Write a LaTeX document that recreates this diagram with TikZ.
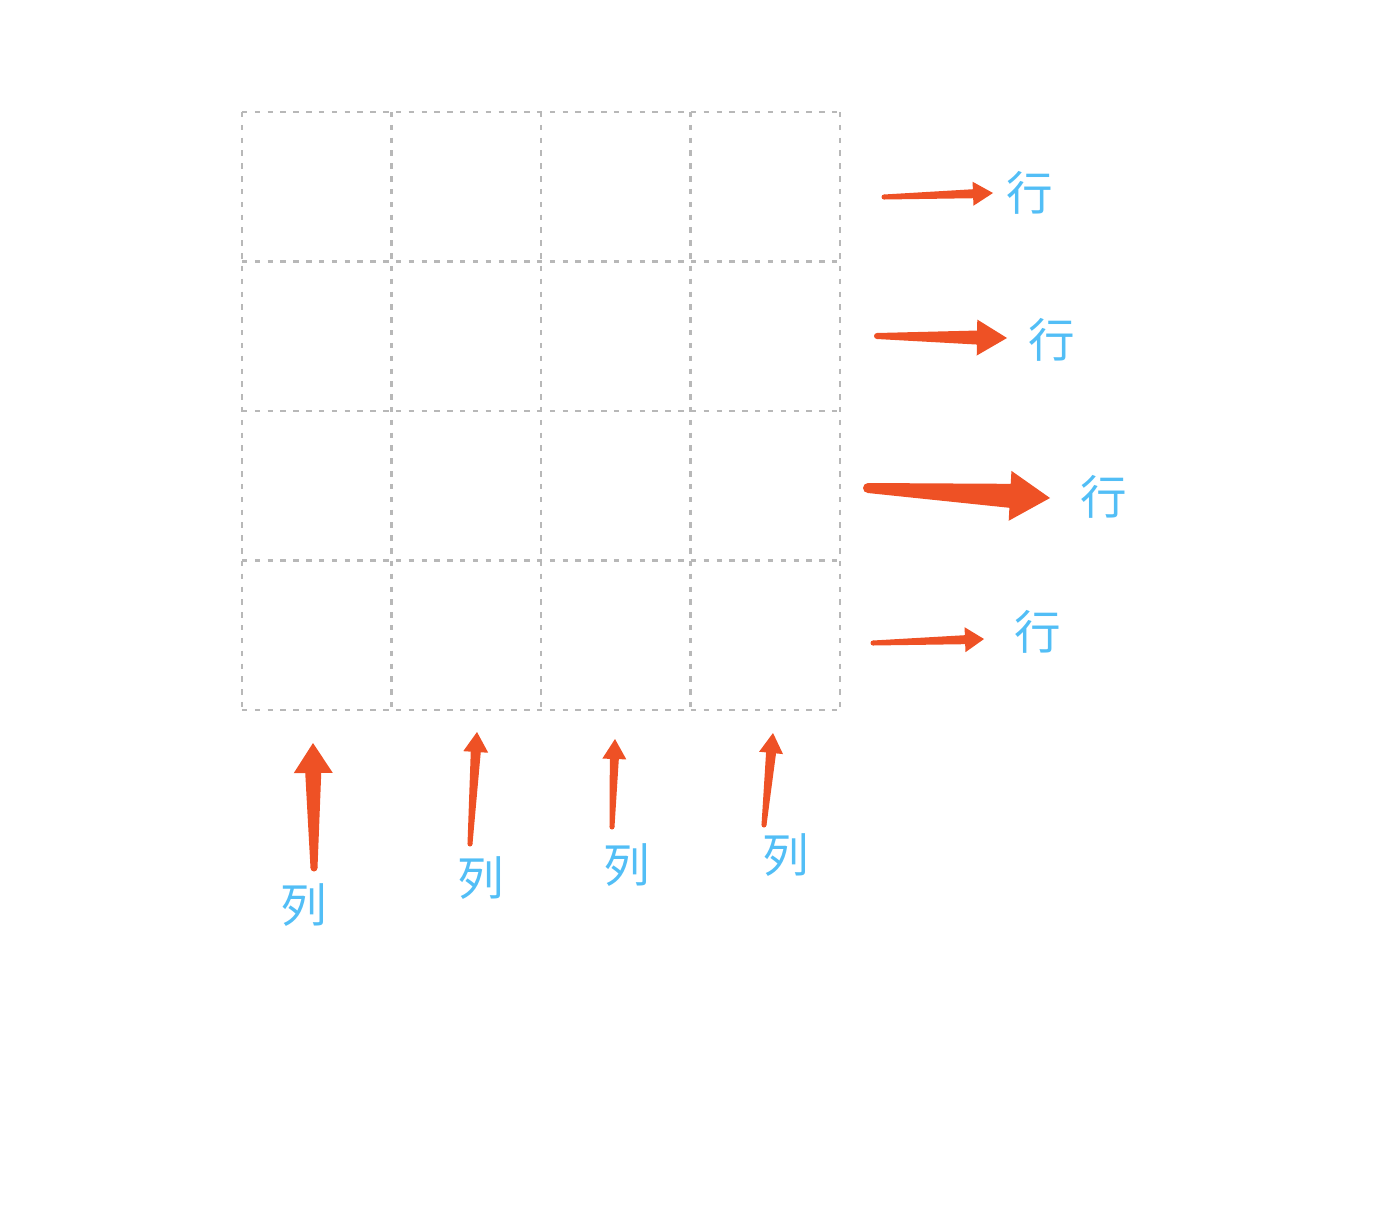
\documentclass[tikz,border=0pt]{standalone}
\usepackage{fontspec}
\newfontfamily\cjkfont{Noto Sans CJK SC}
\usetikzlibrary{calc}
\usetikzlibrary{positioning}
\definecolor{arrowred}{HTML}{EE5125}
\definecolor{labelblue}{HTML}{52BEF6}
\definecolor{gridgray}{HTML}{B8B8B8}
\newcommand{\taperarrow}[6]{
\fill[arrowred] ($(#1)!#6*0.02cm!-90:(#2)$) -- ($($(#2)!#3*0.02cm!(#1)$)!#5*0.02cm!-90:(#2)$)
  -- ($($(#2)!#3*0.02cm!(#1)$)!#4*0.02cm!-90:(#2)$) -- (#2)
  -- ($($(#2)!#3*0.02cm!(#1)$)!#4*0.02cm!90:(#2)$) -- ($($(#2)!#3*0.02cm!(#1)$)!#5*0.02cm!90:(#2)$)
  -- ($(#1)!#6*0.02cm!90:(#2)$) -- cycle;
\fill[arrowred] (#1) circle[radius=#6*0.02cm];
}

\begin{document}
\begin{tikzpicture}[line cap=round,line join=round,x=0.02cm,y=-0.02cm]
\tikzset{
  gridline/.style={gridgray,line width=1.15pt,line cap=butt,dash pattern=on 3.1pt off 4.2pt},
  charlabel/.style={inner sep=0pt,text=labelblue,font=\cjkfont\fontsize{26.5}{26.5}\selectfont}
}
\useasboundingbox (0,0) rectangle (1394,1214);
\foreach \i in {0,...,4}
  \draw[gridline] (242+149.5*\i,112) -- (242+149.5*\i,710);
\foreach \j in {0,...,4}
  \draw[gridline] (242,112+149.5*\j) -- (840,112+149.5*\j);
\coordinate (rowtail1) at (884,197);
\coordinate (rowtip1) at (993,193);
\coordinate (rowtail2) at (877,336);
\coordinate (rowtip2) at (1007,338);
\coordinate (rowtail3) at (868,488);
\coordinate (rowtip3) at (1050,498);
\coordinate (rowtail4) at (873,643);
\coordinate (rowtip4) at (984,639);
\coordinate (coltail1) at (314,868);
\coordinate (coltip1) at (313,743);
\coordinate (coltail2) at (470,844);
\coordinate (coltip2) at (477,732);
\coordinate (coltail3) at (612,827);
\coordinate (coltip3) at (615,739);
\coordinate (coltail4) at (764,825);
\coordinate (coltip4) at (773,733);
\taperarrow{rowtail1}{rowtip1}{20}{12}{4.5}{2.5}
\taperarrow{rowtail2}{rowtip2}{30}{18}{7}{3}
\taperarrow{rowtail3}{rowtip3}{40}{25}{12}{5}
\taperarrow{rowtail4}{rowtip4}{19}{12.5}{4.5}{2.5}
\taperarrow{coltail1}{coltip1}{30}{19.5}{8}{3.5}
\taperarrow{coltail2}{coltip2}{20}{12.5}{5}{2.5}
\taperarrow{coltail3}{coltip3}{20}{12}{4.5}{2.5}
\taperarrow{coltail4}{coltip4}{20}{12}{5}{2.5}
\node[charlabel] (row1) at (1030,193) {行};
\node[charlabel] (row2) at (1052,340) {行};
\node[charlabel] (row3) at (1104,497) {行};
\node[charlabel] (row4) at (1038,632) {行};
\node[charlabel] (col1) at (304,905) {列};
\node[charlabel] (col2) at (481,878) {列};
\node[charlabel] (col3) at (627,865) {列};
\node[charlabel] (col4) at (786,855) {列};
\end{tikzpicture}
\end{document}
